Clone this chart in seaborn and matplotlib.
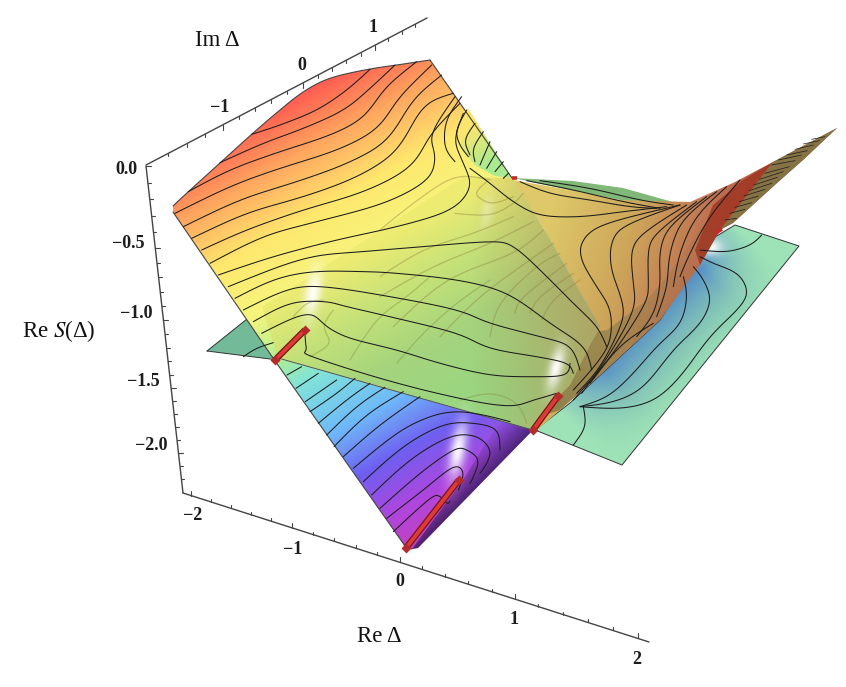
import numpy as np
import matplotlib
matplotlib.use("Agg")
import matplotlib.pyplot as plt
import seaborn as sns
from matplotlib.patches import Polygon

sns.set_theme(style="white")
plt.rcParams['font.family'] = ['Liberation Serif', 'DejaVu Serif']
plt.rcParams['mathtext.fontset'] = 'stix'

# --- surface outlines (pixels) ---
top_arc = [(173,206),(188,192),(220,163),(252,134),(280,110),(303,92),(330,78),(370,69),(397,65),(430,60)]
main_rest = [(512,178),(540,225),(600,300),(600,375),(533,430),(418,548),(412,549),(405,546),(273,358),(173,212)]
notch_outline = [(468,108),(512,178),(495,176),(475,165),(462,150),(458,130)]
shade_outline = [(463,480),(500,420),(533,430),(418,548),(412,549)]
center_outline = [(262,307),(463,177),(513,178),(537,217),(600,327),(590,345),(570,385),(555,400),(533,430),(278,358)]
wing_outline = [(513,180),(570,190),(620,200),(690,202),(733,183),(773,162),(837,128),(803,160),(777,183),(733,223),(720,230),
                (700,265),(660,320),(600,375),(560,410),(537,430),(555,395),(600,327),(537,217)]
under_outline = [(567,337),(607,330),(647,300),(680,260),(700,227),(718,232),(700,265),(660,320),(600,375),(560,410),(545,415),(555,385)]
dark_face = [(773,162),(837,128),(803,160),(777,183),(733,223),(720,230)]
red_face = [(773,162),(720,230),(700,265),(695,250),(713,205),(743,180)]
back_strip = [(513,178),(573,181),(623,188),(680,204),(735,222),(680,208),(620,200),(570,190)]
sheet_right = [(535,430),(622,465),(799,246),(735,225),(715,237),(660,320),(570,403)]
sheet_left = [(207,351),(262,307),(278,360)]

# --- level curves, stored in zoomed pixels: group -> offset x, offset y, scale 3 ---
upper_levels = [
    [(365,403),(450,375),(560,330),(650,270),(720,208)],
    [(270,488),(400,430),(520,385),(640,330),(720,265),(795,195)],
    [(175,575),(300,510),(450,455),(600,405),(700,350),(770,260),(860,185)],
    [(135,640),(300,560),(450,505),(620,450),(740,385),(810,290),(905,195)],
    [(160,680),(330,600),(500,545),(650,490),(770,420),(850,300),(935,225)],
    [(185,715),(350,640),(520,590),(680,530),(800,450),(880,320),(970,280)],
    [(215,750),(350,690),(520,630),(700,575),(840,500),(905,400),(990,310)],
    [(240,790),(400,710),(560,665),(760,610),(890,540),(915,470),(905,400),(975,290)],
    [(265,825),(430,770),(620,720),(800,680),(960,630),(1020,560),(1000,490),(975,420),(1000,340)],
    [(295,860),(520,775),(700,755),(880,740),(1080,725),(1150,740),(1230,810),(1330,910),(1400,980),(1430,1040)],
]
notch_levels = [
    [(205,250),(190,265)],
    [(190,215),(165,245)],
    [(170,185),(140,235)],
    [(150,155),(120,225)],
    [(130,125),(100,175),(105,215)],
    [(105,100),(75,150),(90,195)],
    [(80,60),(50,120),(60,165),(85,200)],
    [(65,20),(20,90),(15,170),(45,215)],
]
right_levels = [
    [(90,175),(150,220),(220,275),(300,315),(420,320),(550,305),(680,290)],
    [(240,215),(330,250),(450,270),(570,290),(650,295)],
    [(260,212),(400,240),(550,275),(660,295)],
    [(300,212),(450,235),(600,270),(700,285)],
    [(720,285),(500,340),(430,390),(425,450),(470,530),(510,600),(510,690),(470,760),(400,840)],
    [(720,285),(560,345),(515,400),(515,480),(545,570),(545,640),(480,770),(410,850)],
    [(740,285),(610,370),(575,430),(580,520),(580,600),(510,730),(425,850)],
    [(770,275),(650,370),(625,430),(625,520),(615,580),(540,700),(450,820)],
    [(800,260),(690,350),(660,430),(660,520),(640,610),(590,680)],
    [(830,245),(730,330),(690,430),(680,530),(650,620)],
    [(860,230),(770,320),(720,430),(700,530)],
    [(900,210),(810,320),(750,430),(720,500)],
    [(420,890),(540,895),(640,870),(720,800),(810,680),(900,590),(920,540),(890,490),(820,460),(780,440)],
    [(420,890),(520,875),(610,830),(700,720),(780,640),(810,570),(790,510),(760,470)],
    [(420,890),(500,860),(570,800),(650,710),(720,640),(740,560),(730,500)],
    [(400,870),(470,790),(550,700),(640,640)],
    [(430,890),(435,950),(400,1005)],
    [(780,420),(860,425),(930,405),(965,375)],
]
lower_levels = [
    [(135,115),(250,60),(370,35),(520,35),(620,40),(800,60),(950,100),(1080,190),(1180,260),(1205,330)],
    [(160,150),(290,90),(400,80),(600,110),(800,150),(900,190),(1050,230),(1140,260),(1170,330)],
    [(190,185),(300,130),(405,125),(470,140),(620,175),(800,220),(900,265),(1040,290),(1130,310),(1150,340)],
    [(215,220),(350,160),(410,200),(480,235),(620,270),(750,310),(900,345),(1030,350),(1125,345),(1140,310)],
    [(345,225),(350,270),(365,290),(640,375),(930,438),(1030,420),(1100,400)],
    [(160,290),(200,265),(250,248)],
    [(291,345),(335,320)],
    [(318,385),(385,340)],
    [(346,425),(440,360)],
    [(360,455),(440,400),(495,355)],
    [(385,490),(470,420),(540,370)],
    [(410,525),(500,440),(585,382)],
    [(432,560),(530,465),(640,395)],
    [(460,590),(570,495),(690,410)],
    [(490,625),(620,520),(720,470),(800,455),(880,465),(960,485)],
    [(520,665),(640,560),(760,495),(850,490),(920,510),(930,570)],
    [(545,705),(660,600),(780,530),(860,530),(900,570),(890,610),(870,640)],
    [(570,745),(690,640),(790,570),(830,570),(865,600),(850,650),(840,670)],
    [(590,775),(700,690),(790,620),(820,640),(805,690)],
    [(610,815),(720,715),(750,710),(770,730),(780,725)],
]
faint_levels = [
    [(0,410),(130,330),(280,280),(400,230)],
    [(0,470),(160,380),(330,310),(460,245)],
    [(40,560),(200,420),(400,340),(490,270)],
    [(180,590),(300,470),(450,360),(520,310)],
    [(330,590),(360,490),(470,380),(540,340)],
    [(320,125),(290,155),(300,175),(340,190),(400,170)],
    [(0,270),(100,190),(225,110),(330,120)],
    [(225,220),(330,225),(400,190),(430,160)],
    [(405,520),(430,470),(560,370)],
    [(450,520),(480,470),(580,400)],
    [(485,540),(520,480),(600,420)],
]
faint_lower = [
    [(480,300),(560,180),(650,110),(720,50)],
    [(360,290),(420,250),(400,200),(430,150)],
    [(310,170),(350,130),(400,120)],
    [(810,420),(900,400),(980,430),(1010,490)],
    [(620,310),(700,220),(800,130),(900,60)],
]
tip_stripes = [[(105,300),(140,295)],[(120,280),(165,268)],[(135,262),(185,248)],[(148,245),(205,228)],[(162,228),(225,208)],
               [(177,212),(245,190)],[(192,195),(262,172)],[(208,178),(280,155)],[(225,160),(298,140)],[(245,135),(315,122)],
               [(265,120),(335,105)],[(290,105),(352,92)],[(315,88),(370,75)],[(340,72),(388,62)],[(365,58),(405,50)]]

rods = [[(275,360),(305,330)], [(533,430),(558,396)], [(406,548),(459,480)]]
small_rods = [[(512,178),(517,178)], [(716,233),(722,229)]]

# --- axes ---
top_axis = [(146,165),(427,18)]
left_axis = [(146,166),(183,493)]
bottom_axis = [(183,493),(649,642)]
top_tick_x = [168,187,205,223,239,255,271,287,303,318,332,346,361,375,388,402,415]
left_tick_y = [166,183,199,216,232,248,263,277,292,306,320,334,348,361,375,388,401,414,427,440,453,466,479]
bottom_tick_x = [191,211,231,251,271,292,313,334,356,377,400,422,445,468,492,515,538,563,588,613,638]

top_labels = ["\u22121", "0", "1"]
top_label_x = [220, 302, 373]
top_label_y = [108, 65, 27]
left_labels = ["0.0", "\u22120.5", "\u22121.0", "\u22121.5", "\u22122.0"]
left_label_x = [126, 128, 136, 143, 151]
left_label_y = [170, 244, 314, 382, 445]
bottom_labels = ["\u22122", "\u22121", "0", "1", "2"]
bottom_label_x = [193, 293, 400, 514, 637]
bottom_label_y = [516, 549, 582, 620, 659]

rainbow_stops = [(224,(255,85,80)),(280,(255,165,95)),(340,(255,232,110)),(400,(245,245,125)),(450,(175,238,150)),
                 (480,(130,228,215)),(540,(110,185,250)),(590,(110,95,240)),(640,(175,70,222)),(680,(195,65,190))]
center_stops = [(350,(250,238,110)),(400,(235,235,115)),(450,(198,226,120)),(510,(165,212,125)),(600,(150,215,130))]
wing_stops = [(560,(222,200,105)),(640,(205,165,90)),(710,(190,108,80)),(770,(165,75,50)),(830,(120,70,45)),(880,(150,115,90))]

W, H = 846, 687
fig = plt.figure(figsize=(8.46, 6.87), dpi=100)
ax = fig.add_axes([0, 0, 1, 1])
gx, gy = np.meshgrid(np.arange(W) + 0.5, np.arange(H) + 0.5)


def fill_grad(outline, nx, ny, stops, alpha=None, z=1, mask=None):
    # colour runs along the direction (nx, ny)
    t = nx * gx + ny * gy
    pos = [s[0] for s in stops]
    rgb = np.stack([np.interp(t, pos, [s[1][i] / 255 for s in stops]) for i in range(3)], axis=-1)
    a = np.ones_like(t) if alpha is None else np.interp(t, pos, alpha)
    if mask is not None:
        a = a * mask
    im = ax.imshow(np.dstack([rgb, a]), extent=(0, W, H, 0), aspect='auto', zorder=z, interpolation='bilinear')
    im.set_clip_path(Polygon(outline, closed=True, transform=ax.transData))


def smooth(points, off_x=0, off_y=0, scale=1):
    # catmull-rom through the points that were read, then a small average, only to draw them round
    p = np.array(points, dtype=float) / scale + [off_x, off_y]
    if len(p) < 3:
        return p[:, 0], p[:, 1]
    q = np.vstack([p[0], p, p[-1]])
    out = []
    for i in range(1, len(q) - 2):
        for u in np.linspace(0, 1, 12, endpoint=False):
            out.append(0.5 * (2 * q[i] + (q[i + 1] - q[i - 1]) * u
                              + (2 * q[i - 1] - 5 * q[i] + 4 * q[i + 1] - q[i + 2]) * u ** 2
                              + (3 * q[i] - q[i - 1] - 3 * q[i + 1] + q[i + 2]) * u ** 3))
    out.append(p[-1])
    out = np.array(out)
    k = 9
    pad = np.pad(out, ((k, k), (0, 0)), mode='reflect', reflect_type='odd')
    xs = np.convolve(pad[:, 0], np.ones(k) / k, mode='same')[k:-k]
    ys = np.convolve(pad[:, 1], np.ones(k) / k, mode='same')[k:-k]
    return xs, ys


def line(xs, ys, color='#1c1c1c', lw=0.75, z=5, alpha=1.0, cap='round'):
    sns.lineplot(x=list(xs), y=list(ys), sort=False, estimator=None, color=color, linewidth=lw,
                 zorder=z, alpha=alpha, legend=False, ax=ax, solid_capstyle=cap)


def glow(cx, cy, rx, ry, angle, strength=0.95, z=4, clip=None):
    c, s = np.cos(np.radians(angle)), np.sin(np.radians(angle))
    u = (gx - cx) * c + (gy - cy) * s
    v = -(gx - cx) * s + (gy - cy) * c
    a = strength * np.exp(-(u / rx) ** 2 - (v / ry) ** 2)
    im = ax.imshow(np.dstack([np.ones_like(a), np.ones_like(a), np.ones_like(a), a]), extent=(0, W, H, 0),
                   aspect='auto', zorder=z)
    if clip is not None:
        im.set_clip_path(Polygon(clip, closed=True, transform=ax.transData))


# sheets behind the main surface
ax.fill(*zip(*back_strip), color=(0.50, 0.72, 0.47), lw=0, zorder=1)
ax.fill(*zip(*sheet_right), color=(0.62, 0.89, 0.72), lw=0, zorder=1)
along = 0.69 * gx - 0.72 * gy
blue_mask = np.interp(along, [90, 150, 290, 345], [0, 1, 1, 0])
fill_grad(sheet_right, 0.72, 0.69, [(690, (88, 145, 200)), (770, (125, 190, 170))], alpha=[1.0, 0.0], z=1.2, mask=blue_mask)
glow(710, 247, 13, 8, 0, z=1.3, clip=sheet_right)
ax.fill(*zip(*sheet_left), color=(0.45, 0.73, 0.60), lw=0, zorder=1)

# main surface
arc_x, arc_y = smooth(top_arc)
main_outline = list(zip(arc_x, arc_y)) + main_rest
fill_grad(main_outline, 0.49, 0.87, rainbow_stops, z=2)
fill_grad(notch_outline, 0.6, 0.8, [(385, (250, 230, 110)), (425, (170, 235, 145))], z=2.1)
fill_grad(shade_outline, 0.707, 0.707, [(652, (20, 20, 70)), (681, (20, 20, 70))], alpha=[0.0, 0.65], z=2.2)

# wing and overlay
fill_grad(wing_outline, 0.9, 0.3, wing_stops, z=2.5)
ax.fill(*zip(*red_face), color=(0.62, 0.20, 0.13), lw=0, alpha=0.8, zorder=2.6)
ax.fill(*zip(*dark_face), color=(0.52, 0.45, 0.27), lw=0, zorder=2.6)
fill_grad(under_outline, 1.0, 0.0, [(560, (100, 105, 65)), (700, (100, 105, 65))], alpha=[0.6, 0.05], z=2.6)
fill_grad(center_outline, 0.49, 0.87, center_stops, z=3)
fill_grad(center_outline, 1.0, 0.0, [(470, (190, 130, 80)), (600, (190, 130, 80))], alpha=[0.0, 0.6], z=3.1)

for c in [(313, 293, 8, 24, 10), (556, 368, 7, 22, 15), (458, 450, 8, 28, 10)]:
    glow(*c)
glow(487, 212, 6, 16, 10, strength=0.3)

# outlines
line(*zip(*(sheet_right + sheet_right[:1])), color='#333333', lw=0.7, z=1.5)
line(*zip(*(sheet_left + sheet_left[:1])), color='#333333', lw=0.7, z=1.5)
line(arc_x, arc_y, color='#444444', lw=0.8)
line(*zip(*[top_arc[-1], main_rest[0]]), color='#444444', lw=0.8)
line(*zip(*[main_rest[-1], main_rest[-2], main_rest[-3], main_rest[-4]]), color='#444444', lw=0.8)
line(*zip(*center_outline[-2:]), color='#555555', lw=0.7)

# level curves
for c in upper_levels:
    line(*smooth(c, 130, 0, 3))
for c in notch_levels:
    line(*smooth(c, 440, 90, 3))
for c in right_levels:
    line(*smooth(c, 440, 110, 3))
for c in lower_levels:
    line(*smooth(c, 190, 260, 3))
for c in tip_stripes:
    line(*smooth(c, 690, 120, 3), lw=0.5)
for c in faint_levels:
    line(*smooth(c, 380, 140, 3), color='#8a7d3a', alpha=0.4, lw=0.9, z=4.5)
for c in faint_lower:
    line(*smooth(c, 190, 260, 3), color='#7d8a3a', alpha=0.4, lw=0.9, z=4.5)

# red rods, with a small knob at both ends
for r in rods:
    line(*zip(*r), color='#7a1414', lw=4.6, z=6, cap='butt')
    line(*zip(*r), color='#dc3c37', lw=2.8, z=6.1, cap='butt')
    sns.scatterplot(x=[p[0] for p in r], y=[p[1] for p in r], color='#b52a2a', s=26, marker='D',
                    linewidth=0, zorder=6.2, legend=False, ax=ax)
for r in small_rods:
    line(*zip(*r), color='#c8282a', lw=2.6, z=6, cap='butt')

# axes
for a in [top_axis, left_axis, bottom_axis]:
    line(*zip(*a), color='#444444', lw=1.0, z=7)
for i, x in enumerate(top_tick_x):
    y = np.interp(x, [top_axis[0][0], top_axis[1][0]], [top_axis[0][1], top_axis[1][1]])
    line([x, x], [y, y + (5 if (i - 3) % 5 == 0 else 3)], color='#444444', lw=0.8, z=7)
for i, y in enumerate(left_tick_y):
    x = np.interp(y, [left_axis[0][1], left_axis[1][1]], [left_axis[0][0], left_axis[1][0]])
    line([x, x + (5 if i % 5 == 0 else 3)], [y, y], color='#444444', lw=0.8, z=7)
for i, x in enumerate(bottom_tick_x):
    y = np.interp(x, [bottom_axis[0][0], bottom_axis[1][0]], [bottom_axis[0][1], bottom_axis[1][1]])
    line([x, x], [y, y - (5 if i % 5 == 0 else 3)], color='#444444', lw=0.8, z=7)

for labs, xs, ys in [(top_labels, top_label_x, top_label_y), (left_labels, left_label_x, left_label_y),
                     (bottom_labels, bottom_label_x, bottom_label_y)]:
    for s, x, y in zip(labs, xs, ys):
        ax.text(x, y, s, fontsize=13, fontweight='bold', ha='center', va='center', color='#1c1c1c', zorder=8)

ax.text(217, 40, "Im \u0394", fontsize=16.5, ha='center', va='center', color='#111111')
ax.text(379, 636, "Re \u0394", fontsize=16.5, ha='center', va='center', color='#111111')
ax.text(59, 331, "Re $S$(\u0394)", fontsize=16.5, ha='center', va='center', color='#111111')

ax.set_xlim(0, W)
ax.set_ylim(H, 0)
ax.axis('off')
fig.savefig("out.png", dpi=100, facecolor='white')
